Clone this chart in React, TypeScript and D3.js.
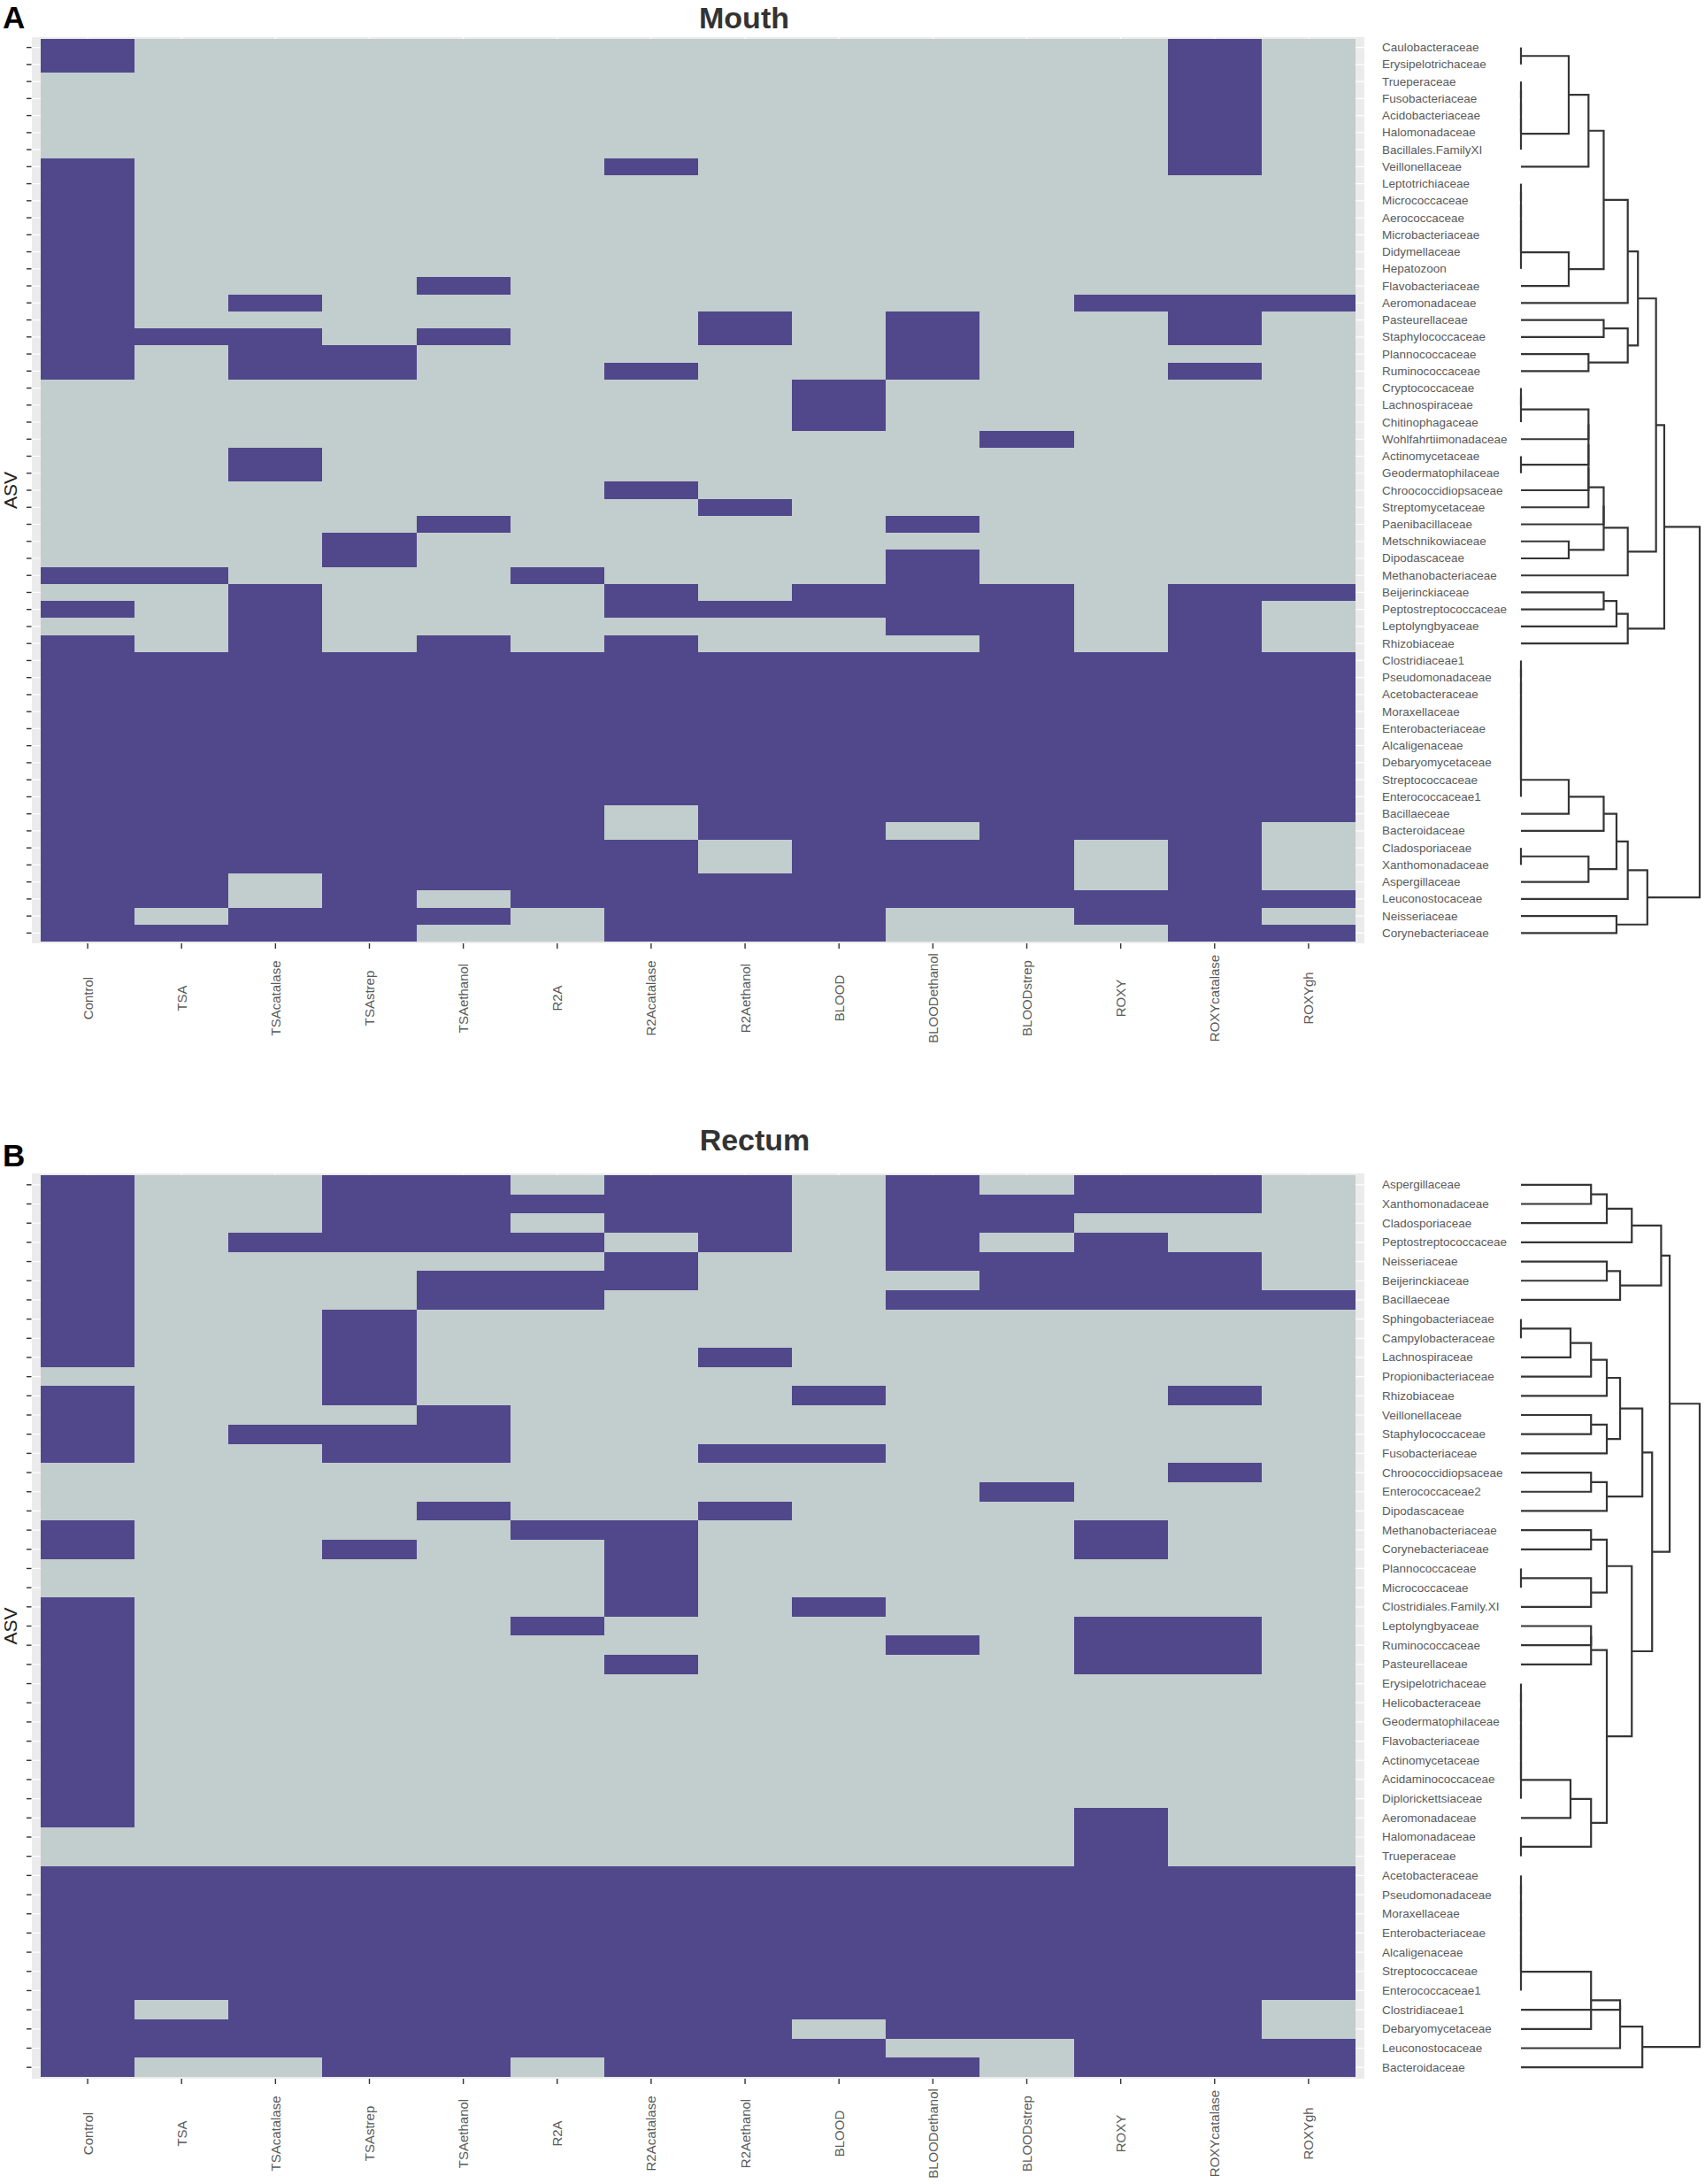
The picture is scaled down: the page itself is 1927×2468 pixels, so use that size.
import React, { useEffect, useRef } from 'react';
import * as d3 from 'd3';

// culture conditions (heatmap columns)
const columns = [
  'Control', 'TSA', 'TSAcatalase', 'TSAstrep', 'TSAethanol', 'R2A', 'R2Acatalase',
  'R2Aethanol', 'BLOOD', 'BLOODethanol', 'BLOODstrep', 'ROXY', 'ROXYcatalase', 'ROXYgh',
];

// ---- Mouth ----
const mouthTaxa = [
  'Caulobacteraceae', 'Erysipelotrichaceae', 'Trueperaceae', 'Fusobacteriaceae', 'Acidobacteriaceae',
  'Halomonadaceae', 'Bacillales.FamilyXI', 'Veillonellaceae', 'Leptotrichiaceae', 'Micrococcaceae',
  'Aerococcaceae', 'Microbacteriaceae', 'Didymellaceae', 'Hepatozoon', 'Flavobacteriaceae',
  'Aeromonadaceae', 'Pasteurellaceae', 'Staphylococcaceae', 'Plannococcaceae', 'Ruminococcaceae',
  'Cryptococcaceae', 'Lachnospiraceae', 'Chitinophagaceae', 'Wohlfahrtiimonadaceae', 'Actinomycetaceae',
  'Geodermatophilaceae', 'Chroococcidiopsaceae', 'Streptomycetaceae', 'Paenibacillaceae', 'Metschnikowiaceae',
  'Dipodascaceae', 'Methanobacteriaceae', 'Beijerinckiaceae', 'Peptostreptococcaceae', 'Leptolyngbyaceae',
  'Rhizobiaceae', 'Clostridiaceae1', 'Pseudomonadaceae', 'Acetobacteraceae', 'Moraxellaceae',
  'Enterobacteriaceae', 'Alcaligenaceae', 'Debaryomycetaceae', 'Streptococcaceae', 'Enterococcaceae1',
  'Bacillaeceae', 'Bacteroidaceae', 'Cladosporiaceae', 'Xanthomonadaceae', 'Aspergillaceae',
  'Leuconostocaceae', 'Neisseriaceae', 'Corynebacteriaceae',
];

// presence (1) / absence (0) per column, same order as columns
const mouthPresence = [
  '10000000000010', '10000000000010', '00000000000010', '00000000000010', '00000000000010',
  '00000000000010', '00000000000010', '10000010000010', '10000000000000', '10000000000000',
  '10000000000000', '10000000000000', '10000000000000', '10000000000000', '10001000000000',
  '10100000000111', '10000001010010', '11101001010010', '10110000010000', '10110010010010',
  '00000000100000', '00000000100000', '00000000100000', '00000000001000', '00100000000000',
  '00100000000000', '00000010000000', '00000001000000', '00001000010000', '00010000000000',
  '00010000010000', '11000100010000', '00100010111011', '10100011111010', '00100000011010',
  '10101010001010', '11111111111111', '11111111111111', '11111111111111', '11111111111111',
  '11111111111111', '11111111111111', '11111111111111', '11111111111111', '11111111111111',
  '11111101111111', '11111101101110', '11111110111010', '11111110111010', '11011111111010',
  '11010111111111', '10111011100110', '11110011100011',
];

type TreeNode = number | [TreeNode, TreeNode, number];

// successive merges at one height, as hclust does with ties
const chain = (h: number, ...nodes: TreeNode[]): TreeNode =>
  nodes.slice(1).reduce((acc: TreeNode, n) => [acc, n, h], nodes[0]);

// leaves are row indices, internal nodes are [left, right, height]
const mouthTree: TreeNode = [
  [
    [
      [
        [[[[chain(0, 0, 1), chain(0, 2, 3, 4, 5, 6), 1], 7, 1.414], [chain(0, 8, 9, 10, 11, 12, 13), 14, 1], 1.732], 15, 2.236],
        [[16, 17, 1.732], [18, 19, 1.414], 2.236],
        2.449,
      ],
      [chain(1.732, chain(1.414, chain(0, 20, 21, 22), 23, [24, 25, 0], 26, 27), 28, [29, 30, 1]), 31, 2.236],
      2.828,
    ],
    [[[32, 33, 1.732], 34, 2], 35, 2.236],
    3,
  ],
  [
    [[[[chain(0, 36, 37, 38, 39, 40, 41, 42, 43, 44), 45, 1], 46, 1.732], [chain(0, 47, 48), 49, 1.414], 2], 50, 2.236],
    [51, 52, 2],
    2.646,
  ],
  3.742,
];

// ---- Rectum ----
const rectumTaxa = [
  'Aspergillaceae', 'Xanthomonadaceae', 'Cladosporiaceae', 'Peptostreptococcaceae', 'Neisseriaceae',
  'Beijerinckiaceae', 'Bacillaeceae', 'Sphingobacteriaceae', 'Campylobacteraceae', 'Lachnospiraceae',
  'Propionibacteriaceae', 'Rhizobiaceae', 'Veillonellaceae', 'Staphylococcaceae', 'Fusobacteriaceae',
  'Chroococcidiopsaceae', 'Enterococcaceae2', 'Dipodascaceae', 'Methanobacteriaceae', 'Corynebacteriaceae',
  'Plannococcaceae', 'Micrococcaceae', 'Clostridiales.Family.XI', 'Leptolyngbyaceae', 'Ruminococcaceae',
  'Pasteurellaceae', 'Erysipelotrichaceae', 'Helicobacteraceae', 'Geodermatophilaceae', 'Flavobacteriaceae',
  'Actinomycetaceae', 'Acidaminococcaceae', 'Diplorickettsiaceae', 'Aeromonadaceae', 'Halomonadaceae',
  'Trueperaceae', 'Acetobacteraceae', 'Pseudomonadaceae', 'Moraxellaceae', 'Enterobacteriaceae',
  'Alcaligenaceae', 'Streptococcaceae', 'Enterococcaceae1', 'Clostridiaceae1', 'Debaryomycetaceae',
  'Leuconostocaceae', 'Bacteroidaceae',
];

const rectumPresence = [
  '10011011010110', '10011111011110', '10011011011000', '10111101010100', '10000010011110',
  '10001110001110', '10001100011111', '10010000000000', '10010000000000', '10010001000000',
  '00010000000000', '10010000100010', '10001000000000', '10111000000000', '10011001100000',
  '00000000000010', '00000000001000', '00001001000000', '10000110000100', '10010010000100',
  '00000010000000', '00000010000000', '10000010100000', '10000100000110', '10000000010110',
  '10000010000110', '10000000000000', '10000000000000', '10000000000000', '10000000000000',
  '10000000000000', '10000000000000', '10000000000000', '10000000000100', '00000000000100',
  '00000000000100', '11111111111111', '11111111111111', '11111111111111', '11111111111111',
  '11111111111111', '11111111111111', '11111111111111', '10111111111110', '11111111011110',
  '11111111100111', '10011011110111',
];

const rectumTree: TreeNode = [
  [
    [[[[0, 1, 1.414], 2, 1.732], 3, 2.236], [[4, 5, 1.732], 6, 2], 2.828],
    [
      [
        [[[[chain(0, 7, 8), 9, 1], 10, 1.414], 11, 1.732], [[12, 13, 1.414], 14, 1.732], 2],
        [[15, 16, 1.414], 17, 1.732],
        2.449,
      ],
      [
        [[18, 19, 1.414], [chain(0, 20, 21), 22, 1.414], 1.732],
        [chain(1.414, 23, 24, 25), [[chain(0, 26, 27, 28, 29, 30, 31, 32), 33, 1], chain(0, 34, 35), 1.414], 1.732],
        2.236,
      ],
      2.646,
    ],
    3,
  ],
  [chain(2, 43, [chain(0, 36, 37, 38, 39, 40, 41, 42), 44, 1.414], 45), 46, 2.449],
  3.606,
];

const ON = '#51478b';
const OFF = '#c2cdcd';
const FONT = "'Liberation Sans', Arial, Helvetica, sans-serif";

const drawPanel = (svg, p) => {
  const panelL = 36, panelR = 1542;
  const x = d3.scaleBand().domain(columns).range([46, 1532]);
  const y = d3.scaleBand().domain(p.taxa).range([p.top, p.bottom]);
  const cy = (t) => y(t) + y.bandwidth() / 2;
  const cx = (c) => x(c) + x.bandwidth() / 2;

  const g = svg.append('g');

  // panel background + grid
  g.append('rect')
    .attr('x', panelL).attr('y', p.top - 2)
    .attr('width', panelR - panelL).attr('height', p.bottom - p.top + 4)
    .attr('fill', '#ebebeb');
  g.selectAll('.gy').data(p.taxa).enter().append('line')
    .attr('x1', panelL).attr('x2', panelR)
    .attr('y1', cy).attr('y2', cy)
    .attr('stroke', '#fff').attr('stroke-width', 1.2);
  g.selectAll('.gx').data(columns).enter().append('line')
    .attr('x1', cx).attr('x2', cx)
    .attr('y1', p.top - 2).attr('y2', p.bottom + 2)
    .attr('stroke', '#fff').attr('stroke-width', 1.2);

  // tiles
  const cells = p.taxa.flatMap((t, i) => columns.map((c, j) => ({ t, c, on: p.presence[i][j] === '1' })));
  g.selectAll('.cell').data(cells).enter().append('rect')
    .attr('x', d => x(d.c)).attr('y', d => y(d.t))
    .attr('width', x.bandwidth()).attr('height', y.bandwidth())
    .attr('fill', d => d.on ? ON : OFF)
    .attr('shape-rendering', 'crispEdges');

  // y ticks
  g.selectAll('.ty').data(p.taxa).enter().append('line')
    .attr('x1', 30).attr('x2', 35.5)
    .attr('y1', cy).attr('y2', cy)
    .attr('stroke', '#333').attr('stroke-width', 1.4);

  // x ticks + labels
  g.selectAll('.tx').data(columns).enter().append('line')
    .attr('x1', cx).attr('x2', cx)
    .attr('y1', p.bottom + 2).attr('y2', p.bottom + 8)
    .attr('stroke', '#333').attr('stroke-width', 1.4);
  g.selectAll('.lx').data(columns).enter().append('text')
    .attr('transform', d => `translate(${cx(d)},${p.bottom + 64}) rotate(-90)`)
    .attr('text-anchor', 'middle')
    .attr('dominant-baseline', 'central')
    .style('font-family', FONT).style('font-size', '15px')
    .attr('fill', '#5a5a5a')
    .text(d => d);

  // ASV axis title
  g.append('text')
    .attr('transform', `translate(11,${(p.top + p.bottom) / 2}) rotate(-90)`)
    .attr('text-anchor', 'middle')
    .attr('dominant-baseline', 'central')
    .style('font-family', FONT).style('font-size', '21px')
    .attr('fill', '#222')
    .text('ASV');

  // row labels
  g.selectAll('.ly').data(p.taxa).enter().append('text')
    .attr('x', 1562).attr('y', cy)
    .attr('dominant-baseline', 'central')
    .style('font-family', FONT).style('font-size', '13.5px')
    .attr('fill', '#5a5a5a')
    .text(d => d);

  // dendrogram
  const root = p.tree as any;
  const hx = d3.scaleLinear().domain([0, root[2]]).range([1719, 1921]);
  const paths: string[] = [];
  const place = (n: TreeNode) => {
    if (typeof n === 'number') return { x: hx(0), y: cy(p.taxa[n]) };
    const a = place(n[0]);
    const b = place(n[1]);
    const nx = hx(n[2]);
    paths.push(`M${a.x},${a.y}H${nx}V${b.y}H${b.x}`);
    return { x: nx, y: (a.y + b.y) / 2 };
  };
  place(p.tree);
  g.selectAll('.dend').data(paths).enter().append('path')
    .attr('d', d => d)
    .attr('fill', 'none')
    .attr('stroke', '#353535')
    .attr('stroke-width', 2.2);

  // title + panel letter
  g.append('text')
    .attr('x', p.titleX).attr('y', p.titleY)
    .attr('text-anchor', 'middle')
    .style('font-family', FONT).style('font-size', '34px').style('font-weight', 'bold')
    .attr('fill', '#333')
    .text(p.title);
  g.append('text')
    .attr('x', 3).attr('y', p.letterY)
    .style('font-family', FONT).style('font-size', '35px').style('font-weight', 'bold')
    .attr('fill', '#000')
    .text(p.letter);
};

const App = () => {
  const ref = useRef(null);

  useEffect(() => {
    d3.select(ref.current).selectAll('*').remove();
    const svg = d3.select(ref.current)
      .append('svg')
      .attr('width', 1927)
      .attr('height', 2468)
      .style('display', 'block')
      .style('background', '#fff');

    drawPanel(svg, {
      taxa: mouthTaxa, presence: mouthPresence, tree: mouthTree,
      top: 44, bottom: 1064, title: 'Mouth', titleX: 841, titleY: 32, letter: 'A', letterY: 32,
    });
    drawPanel(svg, {
      taxa: rectumTaxa, presence: rectumPresence, tree: rectumTree,
      top: 1328, bottom: 2347, title: 'Rectum', titleX: 853, titleY: 1300, letter: 'B', letterY: 1318,
    });
  }, []);

  return <div ref={ref} style={{ position: 'absolute', left: 0, top: 0 }} />;
};

export default App;
